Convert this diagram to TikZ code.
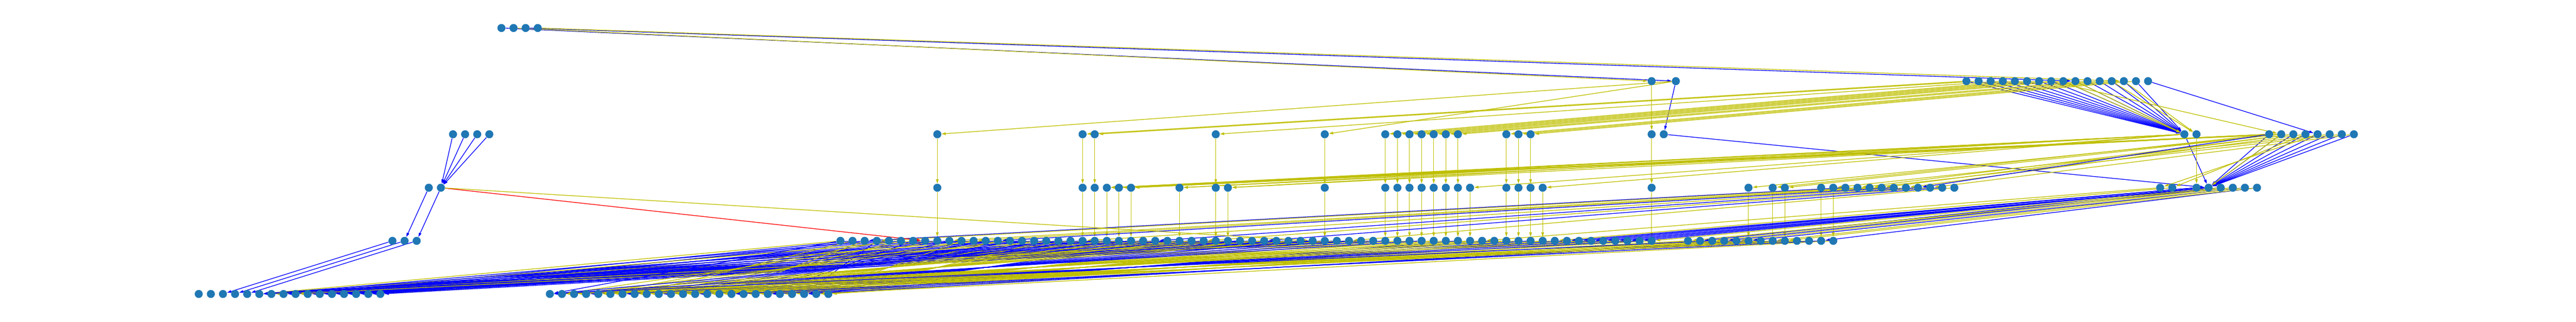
\documentclass[tikz,border=0pt]{standalone}
\usetikzlibrary{arrows.meta,backgrounds}
\definecolor{nodeblue}{HTML}{1F77B4}
\definecolor{olivey}{rgb}{0.75,0.75,0}
\tikzset{
  nd/.style={circle,fill=nodeblue,draw=none,inner sep=0pt,minimum size=0.25cm},
  edge/.style={-{Triangle[length=0.13cm,width=0.08cm]},line width=0.6pt},
  eb/.style={edge,color=blue},
  ey/.style={edge,color=olivey},
  er/.style={edge,color=red},
  ev/.style={edge,color=olivey,line width=0.35pt}
}
\begin{document}
\begin{tikzpicture}
\useasboundingbox (0,0) rectangle (80,10);
% nodes
\foreach \q in {32,33,34,35} \node[nd] (r0c\q) at ({3.54+0.376*\q},9.13) {};
\foreach \q in {127,129,153,154,...,168} \node[nd] (r1c\q) at ({3.54+0.376*\q},7.48) {};
\foreach \q in {28,29,30,31,68,80,81,91,100,105,106,...,111,115,116,117,127,128,171,172,178,179,...,185} \node[nd] (r2c\q) at ({3.54+0.376*\q},5.83) {};
\foreach \q in {26,27,68,80,81,...,84,88,91,92,100,105,106,...,112,115,116,117,118,127,135,137,138,141,142,...,152,169,170,172,173,...,177} \node[nd] (r3c\q) at ({3.54+0.376*\q},4.17) {};
\foreach \q in {23,24,25,60,61,...,127,130,131,...,142} \node[nd] (r4c\q) at ({3.54+0.376*\q},2.52) {};
\foreach \q in {7,8,...,22,36,37,...,59} \node[nd] (r5c\q) at ({3.54+0.376*\q},0.87) {};
\begin{scope}[on background layer]
% row 0 -> row 1
\draw[eb] (r0c32) -- (r1c129);
\draw[ey] (r0c33) -- (r1c127);
\draw[eb] (r0c34) -- (r1c162);
\draw[ey] (r0c35) -- (r1c166);
% row 1 -> row 2
\draw[ev] (r1c127) -- (r2c127);
\draw[eb] (r1c129) -- (r2c128);
\draw[ey] (r1c129) -- (r2c68);
\draw[ey] (r1c129) -- (r2c100);
\foreach \q in {153,154,...,167} \draw[eb] (r1c\q) -- (r2c171);
\draw[ey] (r1c161) -- (r2c171);
\draw[ey] (r1c162) -- (r2c171);
\draw[ey] (r1c165) -- (r2c172);
\draw[ey] (r1c166) -- (r2c172);
\draw[eb] (r1c168) -- (r2c182);
\draw[ey] (r1c160) -- (r2c179);
\foreach \a/\b in {153/80,154/81,156/91,157/105,158/106,159/107,160/108,161/109,163/110,164/111,165/115,166/116,167/117}
  \draw[ey] (r1c\a) -- (r2c\b);
% row 2 -> row 3
\foreach \q in {68,80,81,91,100,105,106,...,111,115,116,117,127} \draw[ev] (r2c\q) -- (r3c\q);
\draw[eb] (r2c128) -- (r3c173);
\draw[eb] (r2c171) -- (r3c173);
\draw[ev] (r2c172) -- (r3c172);
\foreach \q in {178,179,...,185} \draw[eb] (r2c\q) -- (r3c173);
\draw[ey] (r2c179) -- (r3c173);
\draw[ey] (r2c182) -- (r3c169);
\draw[ey] (r2c181) -- (r3c170);
\foreach \a/\b in {171/82,171/83,171/84,171/88,171/92,171/112,171/118,178/82,178/83,178/84,178/88,178/92,179/82,179/84,178/137,179/135,179/138,180/144,180/146,181/148,183/142,184/145,185/150}
  \draw[ey] (r2c\a) -- (r3c\b);
\draw[eb] (r2c178) -- (r3c149);
\foreach \q in {28,29,30,31} \draw[eb] (r2c\q) -- (r3c27);
% row 3 -> row 4
\foreach \q in {68,80,81,...,84,88,91,92,100,105,106,...,112,115,116,117,118,127,135,137,138,141,142} \draw[ev] (r3c\q) -- (r4c\q);
\foreach \a/\b/\s in {143/62/eb,144/63/ey,145/69/ey,146/71/ey,147/73/eb,148/80/ey,149/86/eb,150/90/ey,151/95/eb,152/102/ey}
  \draw[\s] (r3c\a) -- (r4c\b);
\foreach \a/\b/\s in {169/113/ey,170/119/ey,172/120/eb,172/121/eb,172/122/eb,173/123/eb,173/124/eb,173/125/eb,173/126/eb,173/131/eb,174/132/ey,174/133/eb,175/134/ey,176/135/eb,176/137/ey,177/141/eb,177/138/ey,175/130/ey,174/127/ey}
  \draw[\s] (r3c\a) -- (r4c\b);
\draw[eb] (r3c26) -- (r4c24);
\draw[eb] (r3c27) -- (r4c25);
\draw[er] (r3c27) -- (r4c67);
\draw[ey] (r3c27) -- (r4c99);
% row 4 -> row 5
\draw[eb] (r4c23) -- (r5c9);
\draw[eb] (r4c24) -- (r5c10);
\draw[eb] (r4c25) -- (r5c11);
\foreach \q in {60,61,...,104} {
  \pgfmathtruncatemacro\t{12+mod((\q-60)*4,11)}
  \pgfmathtruncatemacro\m{mod(\q,6)}
  \ifnum\m=0 \draw[ey] (r4c\q) -- (r5c\t);\else \draw[eb] (r4c\q) -- (r5c\t);\fi
}
\foreach \q in {60,61,...,127,130,131,...,142} {
  \pgfmathtruncatemacro\t{36+mod((\q-60)*7,24)}
  \pgfmathtruncatemacro\m{mod(\q,3)}
  \ifnum\m=0 \draw[eb] (r4c\q) -- (r5c\t);\else \draw[ey] (r4c\q) -- (r5c\t);\fi
}
\end{scope}
\end{tikzpicture}
\end{document}
